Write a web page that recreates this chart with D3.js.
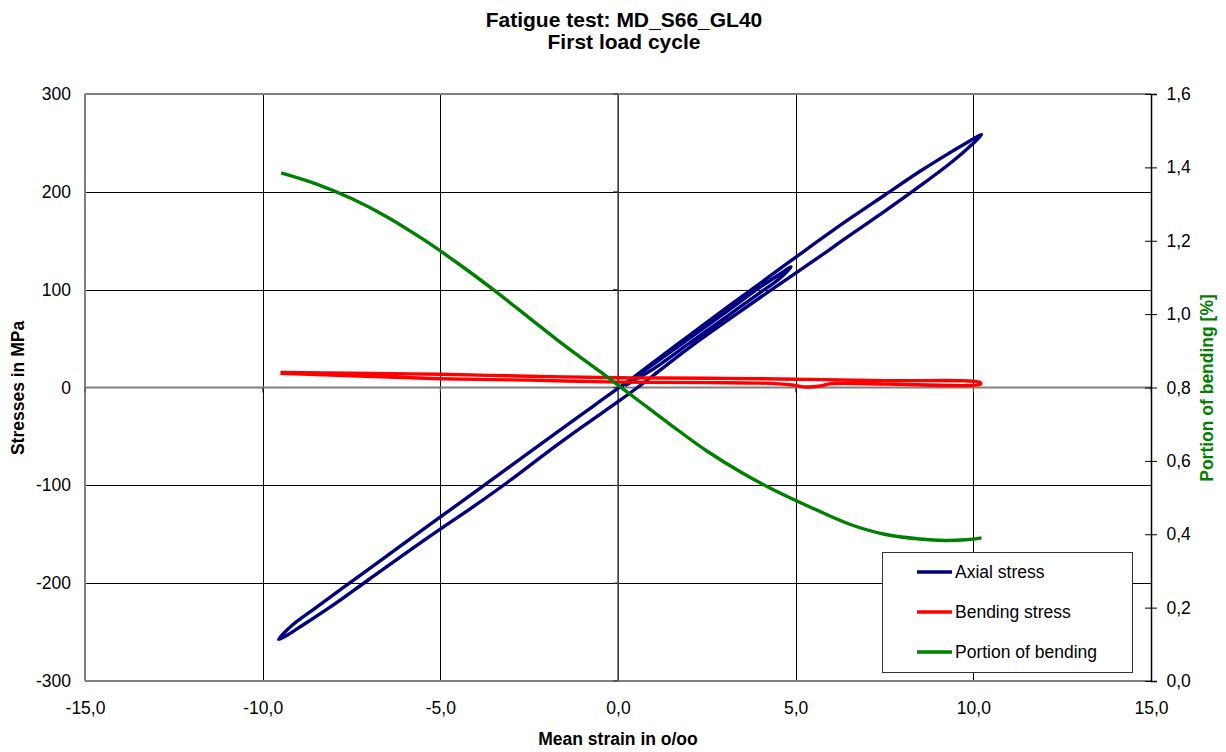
<!DOCTYPE html>
<html><head><meta charset="utf-8">
<script src="https://cdn.jsdelivr.net/npm/d3@7"></script>
<style>
html,body{margin:0;padding:0;background:#fff;}
svg{display:block;font-family:"Liberation Sans",Arial,sans-serif;}
</style></head>
<body><svg id="chart" width="1226" height="752"></svg>
<script>
// ---- data ----
const xTicks = [-15, -10, -5, 0, 5, 10, 15];
const yTicks = [-300, -200, -100, 0, 100, 200, 300];
const y2Ticks = [0, 0.2, 0.4, 0.6, 0.8, 1.0, 1.2, 1.4, 1.6];

const axialStrain = [0.2, 1.0, 2.0, 3.0, 4.0, 4.5, 4.87,
  4.6, 4.0, 3.0, 2.0, 1.0, 0.0, -1.0, -2.39, -3.5, -5.29, -6.5, -7.5, -8.5, -9.2, -9.55,
  -9.3, -9.0, -8.0, -7.0, -5.29, -4.0, -3.0, -1.91, -1.0, 0.0, 0.55, 1.0, 2.0, 3.0, 4.0, 5.0, 5.96, 6.5, 7.5, 8.5, 9.34, 9.8, 10.23,
  9.8, 9.34, 8.5, 7.5, 6.5, 5.3, 4.0, 3.0, 2.0, 1.0, 0.1];
const axialStress = [2, 19, 45, 71, 97, 110, 123.4,
  117, 102.5, 76, 50, 24, -1, -27, -63.4, -93, -140, -172, -198.5, -225, -244, -257.5,
  -253, -246, -222, -196, -152, -120, -94, -64, -40, -14.5, 0, 12.5, 40.5, 66.5, 92, 117, 141, 155, 180, 206, 229, 243, 258.5,
  250, 240, 221, 196.5, 172, 141, 106.5, 80, 53, 26, 1];

const bendingStrain = [-9.5, -7.5, -5, -2.5, 0, 2.5, 5, 7.5, 10.2,
  10.2, 7.5, 6.0, 5.7, 5.3, 4.9, 4.0, 2.5, 0, -2.5, -5, -7.5, -9.5];
const bendingStress = [15.3, 14.5, 13.5, 11.5, 10, 9.5, 8.5, 7, 5,
  3.5, 3.5, 4, 1.5, 0.5, 2.5, 4.5, 5, 5.5, 7.5, 9, 12, 14.5];

const portionStrain = [-9.48, -8.5, -7.5, -6.5, -5.5, -4.5, -3.5, -2.5, -1.5, -0.5, 0.5, 1.5, 2.5, 3.5, 4.5, 5.5, 6.5, 7.5, 8.5, 9.2, 9.8, 10.23];
const portionValue = [1.385, 1.355, 1.315, 1.265, 1.205, 1.138, 1.066, 0.99, 0.914, 0.843, 0.77, 0.697, 0.627, 0.567, 0.515, 0.47, 0.428, 0.400, 0.387, 0.383, 0.385, 0.390];

const seriesNames = ["Axial stress", "Bending stress", "Portion of bending"];
const seriesColors = ["#000080", "#FF0000", "#008000"];

// ---- layout ----
const L = 85, R = 1151, T = 94, B = 681;
const FS = 17.5;
const svg = d3.select("#chart");
const x = d3.scaleLinear().domain([-15, 15]).range([L, R]);
const y = d3.scaleLinear().domain([-300, 300]).range([B, T]);
const y2 = d3.scaleLinear().domain([0, 1.6]).range([B, T]);
const comma = v => d3.format(".1f")(v).replace(".", ",").replace("−", "-");

// title
svg.append("text").attr("x", 624).attr("y", 27).attr("text-anchor", "middle")
  .attr("font-size", 21).attr("font-weight", "bold").text("Fatigue test: MD_S66_GL40");
svg.append("text").attr("x", 624).attr("y", 49).attr("text-anchor", "middle")
  .attr("font-size", 21).attr("font-weight", "bold").text("First load cycle");

// gridlines
const g = svg.append("g");
g.selectAll(".vg").data(xTicks.filter(d => d > -15 && d < 15)).join("line")
  .attr("x1", d => Math.round(x(d)) + 0.5).attr("x2", d => Math.round(x(d)) + 0.5)
  .attr("y1", T).attr("y2", B).attr("stroke", "#000").attr("stroke-width", 1);
g.selectAll(".hg").data(yTicks.filter(d => d > -300 && d < 300 && d !== 0)).join("line")
  .attr("x1", L).attr("x2", R).attr("y1", d => Math.round(y(d)) + 0.5).attr("y2", d => Math.round(y(d)) + 0.5)
  .attr("stroke", "#000").attr("stroke-width", 1);

// plot border (gray)
g.append("line").attr("x1", L).attr("x2", R).attr("y1", T).attr("y2", T).attr("stroke", "#808080").attr("stroke-width", 2);
g.append("line").attr("x1", L).attr("x2", L).attr("y1", T).attr("y2", B).attr("stroke", "#808080").attr("stroke-width", 2);
g.append("line").attr("x1", L).attr("x2", R).attr("y1", B).attr("y2", B).attr("stroke", "#808080").attr("stroke-width", 2);

// axis lines through origin
g.append("line").attr("x1", L).attr("x2", R).attr("y1", y(0)).attr("y2", y(0)).attr("stroke", "#808080").attr("stroke-width", 2);
g.append("line").attr("x1", x(0)).attr("x2", x(0)).attr("y1", T).attr("y2", B).attr("stroke", "#555").attr("stroke-width", 1.5);
g.selectAll(".xt").data(xTicks).join("line")
  .attr("x1", d => x(d)).attr("x2", d => x(d)).attr("y1", y(0)).attr("y2", y(0) + 5).attr("stroke", "#555");
g.selectAll(".yt").data(yTicks).join("line")
  .attr("x1", x(0) - 5).attr("x2", x(0)).attr("y1", d => y(d)).attr("y2", d => y(d)).attr("stroke", "#333");

// right axis
const yAxisR = d3.axisRight(y2).tickValues(y2Ticks).tickSize(6).tickFormat(comma);
const ra = svg.append("g").attr("transform", `translate(${R},0)`).call(yAxisR);
ra.select(".domain").attr("stroke", "#000").attr("stroke-width", 1.5);
ra.selectAll(".tick line").attr("x1", -6).attr("x2", 6).attr("stroke", "#000");
ra.selectAll(".tick text").attr("x", 15.5).attr("font-size", FS).attr("font-family", "Liberation Sans, Arial").attr("fill", "#000");

// left labels
const la = svg.append("g").attr("transform", `translate(${L},0)`)
  .call(d3.axisLeft(y).tickValues(yTicks).tickSize(0).tickPadding(14).tickFormat(d => String(d)));
la.select(".domain").remove();
la.selectAll(".tick text").attr("font-size", FS).attr("font-family", "Liberation Sans, Arial").attr("fill", "#000");

// bottom labels
const ba = svg.append("g").attr("transform", `translate(0,${B})`)
  .call(d3.axisBottom(x).tickValues(xTicks).tickSize(0).tickPadding(21).tickFormat(comma));
ba.select(".domain").remove();
ba.selectAll(".tick text").attr("font-size", FS).attr("font-family", "Liberation Sans, Arial").attr("fill", "#000");

// axis titles
svg.append("text").attr("x", 618).attr("y", 745).attr("text-anchor", "middle")
  .attr("font-size", FS).attr("font-weight", "bold").text("Mean strain in o/oo");
svg.append("text").attr("transform", "translate(24,388) rotate(-90)").attr("text-anchor", "middle")
  .attr("font-size", FS).attr("font-weight", "bold").text("Stresses in MPa");
svg.append("text").attr("transform", "translate(1213,388) rotate(-90)").attr("text-anchor", "middle")
  .attr("font-size", FS).attr("font-weight", "bold").attr("fill", "#008000").text("Portion of bending [%]");

// series
const axial = axialStrain.map((d, i) => [d, axialStress[i]]);
const bending = bendingStrain.map((d, i) => [d, bendingStress[i]]);
const portion = portionStrain.map((d, i) => [d, portionValue[i]]);
const lineY = d3.line().x(d => x(d[0])).y(d => y(d[1])).curve(d3.curveCatmullRom.alpha(0.5));
const lineY2 = d3.line().x(d => x(d[0])).y(d => y2(d[1])).curve(d3.curveCatmullRom.alpha(0.5));
svg.append("path").attr("d", lineY(axial)).attr("fill", "none").attr("stroke", seriesColors[0]).attr("stroke-width", 3.4).attr("stroke-linejoin", "round");
svg.append("path").attr("d", lineY(bending)).attr("fill", "none").attr("stroke", seriesColors[1]).attr("stroke-width", 3.4).attr("stroke-linejoin", "round");
svg.append("path").attr("d", lineY2(portion)).attr("fill", "none").attr("stroke", seriesColors[2]).attr("stroke-width", 3.4).attr("stroke-linejoin", "round");

// legend
const lg = svg.append("g");
lg.append("rect").attr("x", 882.5).attr("y", 552.5).attr("width", 250).attr("height", 120)
  .attr("fill", "#fff").attr("stroke", "#333").attr("stroke-width", 1);
const ly = d3.scalePoint().domain(seriesNames).range([572, 652]);
seriesNames.forEach((n, i) => {
  lg.append("line").attr("x1", 917).attr("x2", 952).attr("y1", ly(n)).attr("y2", ly(n))
    .attr("stroke", seriesColors[i]).attr("stroke-width", 3.4);
  lg.append("text").attr("x", 955).attr("y", ly(n) + 6).attr("font-size", FS).text(n);
});
</script></body></html>
